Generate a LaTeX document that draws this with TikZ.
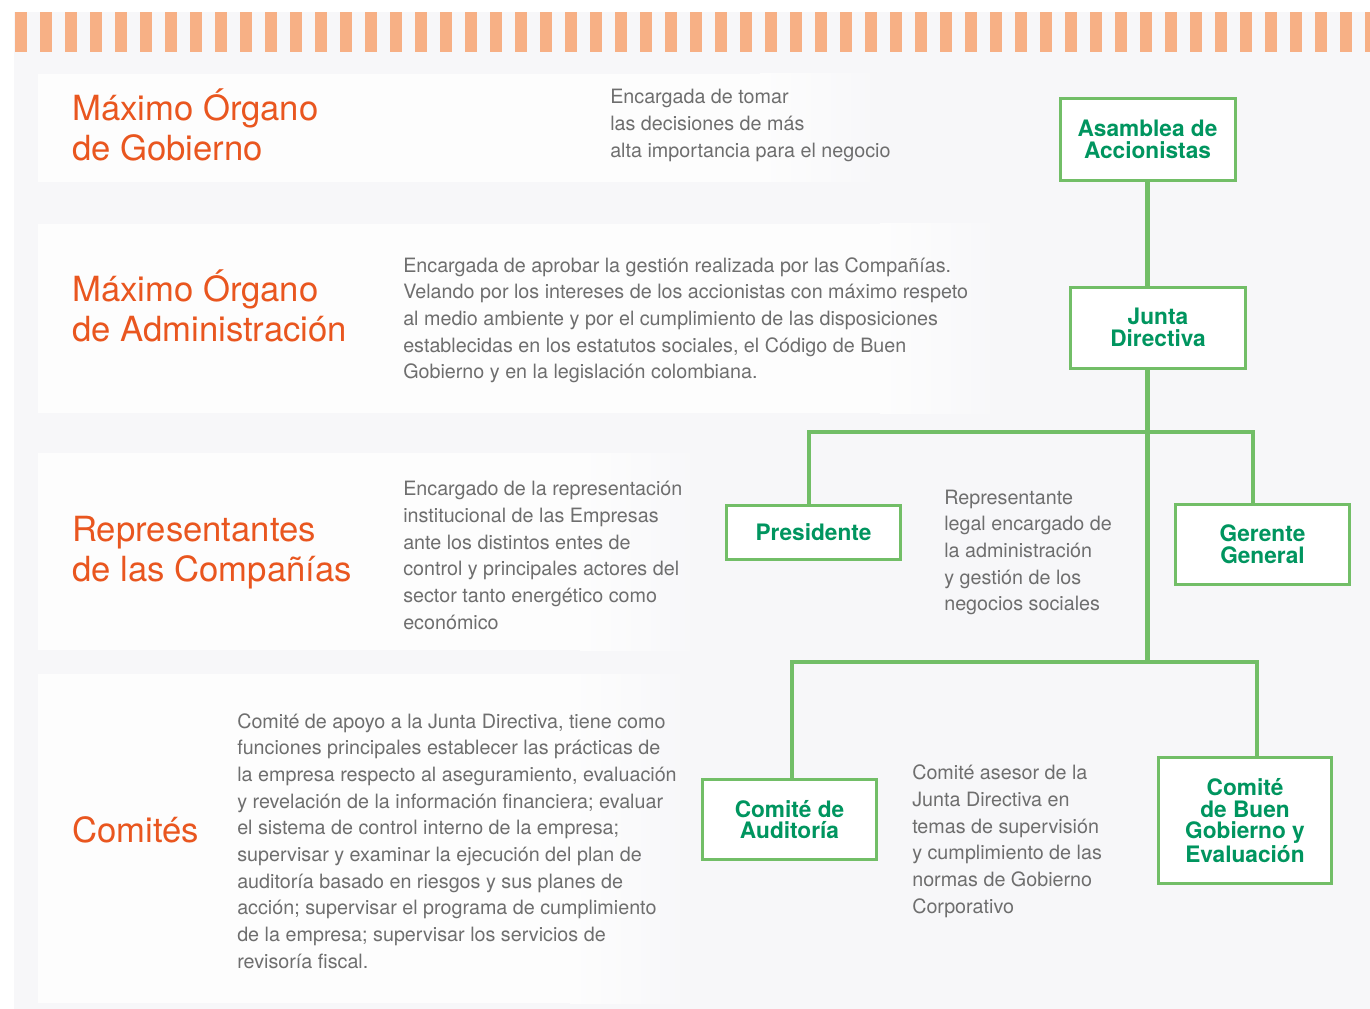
\documentclass[tikz,border=0pt]{standalone}
\usepackage{fontspec}
\setmainfont{TeX Gyre Heros}
\definecolor{bgc}{HTML}{F7F7F9}
\definecolor{rowc}{HTML}{FDFDFD}
\definecolor{stripec}{HTML}{F7B085}
\definecolor{orangec}{HTML}{E9561F}
\definecolor{greytxt}{HTML}{6E6E6E}
\definecolor{greenline}{HTML}{72BE67}
\definecolor{greentxt}{HTML}{00955F}
\tikzset{
  rowtitle/.style={anchor=base west, inner sep=0pt, align=left, text=orangec, font=\fontsize{26}{30}\selectfont},
  bodytxt/.style={anchor=base west, inner sep=0pt, align=left, text=greytxt, font=\fontsize{14.8}{20}\selectfont},
  gbox/.style={draw=greenline, line width=2.25pt, fill=white, align=center, text=greentxt, inner sep=0pt, font=\fontsize{17}{16.2}\selectfont\bfseries},
  conn/.style={draw=greenline, line width=3.6pt, line join=miter},
}
\begin{document}
\begin{tikzpicture}[x=0.75pt, y=-0.75pt]
\useasboundingbox (0,0) rectangle (1370,1009);
\clip (0,0) rectangle (1370,1009);
\fill[white] (0,0) rectangle (1370,1009);
\fill[bgc] (14,12) rectangle (1370,1009);
% stripes
\foreach \i in {0,...,54} \fill[stripec] (15+25*\i,12) rectangle ++(12,40);
% white rows with fade
\foreach \ya/\yb/\xe in {74/182/880, 224/413/1000, 453/650/700, 674/1003/690} {
  \shade[left color=rowc, right color=bgc] (\xe-120,\ya) rectangle (\xe,\yb);
  \fill[rowc] (38,\ya) rectangle (\xe-119,\yb);
}
% row titles (anchor = baseline of last line)
\node[rowtitle] (t1) at (72,161) {Máximo Órgano\\de Gobierno};
\node[rowtitle] (t2) at (72,341) {Máximo Órgano\\de Administración};
\node[rowtitle] (t3) at (72,581) {Representantes\\de las Compañías};
\node[rowtitle] (t4) at (72,842) {Comités};
% descriptions (anchor = baseline of last line)
\node[bodytxt] (d1) at (610,157.3) {Encargada de tomar\\las decisiones de más\\alta importancia para el negocio};
\node[bodytxt] (d2) at (403,378.7) {Encargada de aprobar la gestión realizada por las Compañías.\\Velando por los intereses de los accionistas con máximo respeto\\al medio ambiente y por el cumplimiento de las disposiciones\\establecidas en los estatutos sociales, el Código de Buen\\Gobierno y en la legislación colombiana.};
\node[bodytxt] (d3) at (403,629.3) {Encargado de la representación\\institucional de las Empresas\\ante los distintos entes de\\control y principales actores del\\sector tanto energético como\\económico};
\node[bodytxt] (d3b) at (944,610.7) {Representante\\legal encargado de\\la administración\\y gestión de los\\negocios sociales};
\node[bodytxt] (d4) at (237,968) {Comité de apoyo a la Junta Directiva, tiene como\\funciones principales establecer las prácticas de\\la empresa respecto al aseguramiento, evaluación\\y revelación de la información financiera; evaluar\\el sistema de control interno de la empresa;\\supervisar y examinar la ejecución del plan de\\auditoría basado en riesgos y sus planes de\\acción; supervisar el programa de cumplimiento\\de la empresa; supervisar los servicios de\\revisoría fiscal.};
\node[bodytxt] (d4b) at (912,913.3) {Comité asesor de la\\Junta Directiva en\\temas de supervisión\\y cumplimiento de las\\normas de Gobierno\\Corporativo};
% junctions
\coordinate (j1) at (1147.5,432);
\coordinate (j2) at (1147.5,662);
\coordinate (p1) at (809,432);
\coordinate (g1) at (1253,432);
\coordinate (a1) at (792,662);
\coordinate (b1) at (1257,662);
% boxes
\node[gbox, minimum width=131.25pt, minimum height=61.5pt] (asam) at (1147.5,139.5) {Asamblea de\\Accionistas};
\node[gbox, minimum width=131.25pt, minimum height=60.75pt] (junta) at (1158,327.5) {Junta\\Directiva};
\node[gbox, minimum width=130.5pt, minimum height=40.5pt] (pres) at (813.5,532.5) {Presidente};
\node[gbox, minimum width=130.5pt, minimum height=60pt] (ger) at (1262.5,544.5) {Gerente\\General};
\node[gbox, minimum width=130.5pt, minimum height=60pt] (aud) at (789.5,819.5) {Comité de\\Auditoría};
\node[gbox, minimum width=129.75pt, minimum height=94.5pt] (cbg) at (1245,820.5) {Comité\\de Buen\\Gobierno y\\Evaluación};
% connectors
\draw[conn] (asam.south) -- (asam.south |- junta.north);
\draw[conn] (asam.south |- junta.south) -- (j1) -- (j2);
\draw[conn] (pres.north -| p1) -- (p1) -- (j1) -- (g1) -- (ger.north -| g1);
\draw[conn] (aud.north -| a1) -- (a1) -- (j2) -- (b1) -- (cbg.north -| b1);
\end{tikzpicture}
\end{document}
